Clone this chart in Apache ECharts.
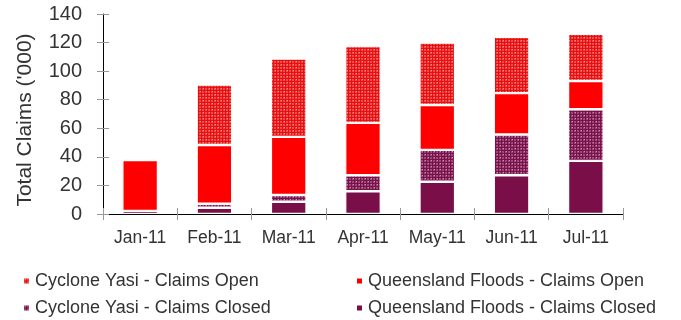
<!DOCTYPE html>
<html>
<head>
<meta charset="utf-8">
<script src="https://cdn.jsdelivr.net/npm/echarts@6/dist/echarts.min.js"></script>
<style>
  html, body { margin: 0; padding: 0; background: #fff; }
  #chart { width: 681px; height: 320px; }
</style>
</head>
<body>
<div id="chart"></div>
<script>
// Monthly claims in thousands, stacked from bottom to top
const months = ['Jan-11', 'Feb-11', 'Mar-11', 'Apr-11', 'May-11', 'Jun-11', 'Jul-11'];
const floodsClosed = [2.2, 4.4, 8.6, 15.9, 22.6, 27.1, 37.2];
const yasiClosed   = [0, 2.8, 4.7, 11.2, 22.3, 28.5, 36.1];
const floodsOpen   = [35.6, 41.1, 40.7, 36.7, 31.4, 29.0, 19.8];
const yasiOpen     = [0, 42.3, 54.9, 53.7, 43.7, 39.4, 33.0];
const yTicks = [0, 20, 40, 60, 80, 100, 120, 140];

const FONT = 'Liberation Sans, Arial, sans-serif';
const TEXT = '#333';

// Small plaid tile used as a fill for the Cyclone Yasi series
function plaid(base, line, dot) {
  const c = document.createElement('canvas');
  c.width = 6; c.height = 6;
  const g = c.getContext('2d');
  g.fillStyle = base; g.fillRect(0, 0, 6, 6);
  g.fillStyle = line;
  g.fillRect(0, 0, 6, 1);
  g.fillRect(0, 0, 1, 6);
  g.fillRect(0, 3, 6, 1);
  g.fillRect(3, 0, 1, 6);
  g.fillStyle = dot;
  g.fillRect(2, 1, 1, 1);
  g.fillRect(5, 4, 1, 1);
  return { image: c, repeat: 'repeat' };
}

const yasiOpenFill = plaid('#f04a4a', '#e61010', '#f79a9a');
const yasiClosedFill = plaid('#9c4a7c', '#7a1048', '#c994b4');

const chart = echarts.init(document.getElementById('chart'), null, { renderer: 'canvas' });

const barStyle = (color) => ({ color: color, borderColor: '#fff', borderWidth: 1.2 });

const catAxisBase = {
  type: 'category',
  data: months,
  position: 'bottom',
  boundaryGap: true,
  splitLine: { show: false }
};
const valAxisBase = {
  type: 'value',
  min: 0,
  max: 140,
  interval: 20,
  position: 'left',
  splitLine: { show: false }
};

// One legend per entry so the four entries sit in two columns of two rows
const legendEntry = (name, left, top) => ({
  orient: 'horizontal', left: left, top: top, itemWidth: 7, itemHeight: 7,
  icon: 'rect', padding: 0,
  textStyle: { color: TEXT, fontFamily: FONT, fontSize: 18 },
  data: [name]
});

chart.setOption({
  animation: false,
  backgroundColor: '#fff',
  grid: { left: 103, right: 58, top: 14, bottom: 106, containLabel: false },
  xAxis: [
    Object.assign({}, catAxisBase, {
      axisLine: { lineStyle: { color: '#000', width: 1 } },
      axisTick: { show: true, length: 6, lineStyle: { color: '#999' } },
      axisLabel: { color: TEXT, fontFamily: FONT, fontSize: 17.5, margin: 15 }
    }),
    Object.assign({}, catAxisBase, {
      axisLine: { show: false },
      axisTick: { show: true, inside: true, length: 6, lineStyle: { color: '#999' } },
      axisLabel: { show: false }
    })
  ],
  yAxis: [
    Object.assign({}, valAxisBase, {
      axisLine: { show: true, lineStyle: { color: '#000', width: 1 } },
      axisTick: { show: true, length: 6, lineStyle: { color: '#999' } },
      axisLabel: {
        color: TEXT, fontFamily: FONT, fontSize: 20, margin: 21,
        formatter: (v) => (yTicks.indexOf(v) >= 0 ? String(v) : '')
      }
    }),
    Object.assign({}, valAxisBase, {
      axisLine: { show: false },
      axisTick: { show: true, inside: true, length: 6, lineStyle: { color: '#999' } },
      axisLabel: { show: false }
    })
  ],
  legend: [
    legendEntry('Cyclone Yasi - Claims Open', 22, 272),
    legendEntry('Cyclone Yasi - Claims Closed', 22, 299),
    legendEntry('Queensland Floods - Claims Open', 355, 272),
    legendEntry('Queensland Floods - Claims Closed', 355, 299)
  ],
  graphic: [
    {
      type: 'text', x: 25, y: 120, rotation: Math.PI / 2,
      style: {
        text: "Total Claims ('000)", fill: TEXT, font: '21px ' + FONT,
        align: 'center', verticalAlign: 'middle'
      }
    }
  ],
  series: [
    { name: 'Queensland Floods - Claims Closed', type: 'bar', stack: 'c', barWidth: '48%',
      itemStyle: barStyle('#7a0e48'), data: floodsClosed },
    { name: 'Cyclone Yasi - Claims Closed', type: 'bar', stack: 'c', barWidth: '48%',
      itemStyle: barStyle(yasiClosedFill), data: yasiClosed },
    { name: 'Queensland Floods - Claims Open', type: 'bar', stack: 'c', barWidth: '48%',
      itemStyle: barStyle('#ff0000'), data: floodsOpen },
    { name: 'Cyclone Yasi - Claims Open', type: 'bar', stack: 'c', barWidth: '48%',
      itemStyle: barStyle(yasiOpenFill), data: yasiOpen }
  ]
});
</script>
</body>
</html>
